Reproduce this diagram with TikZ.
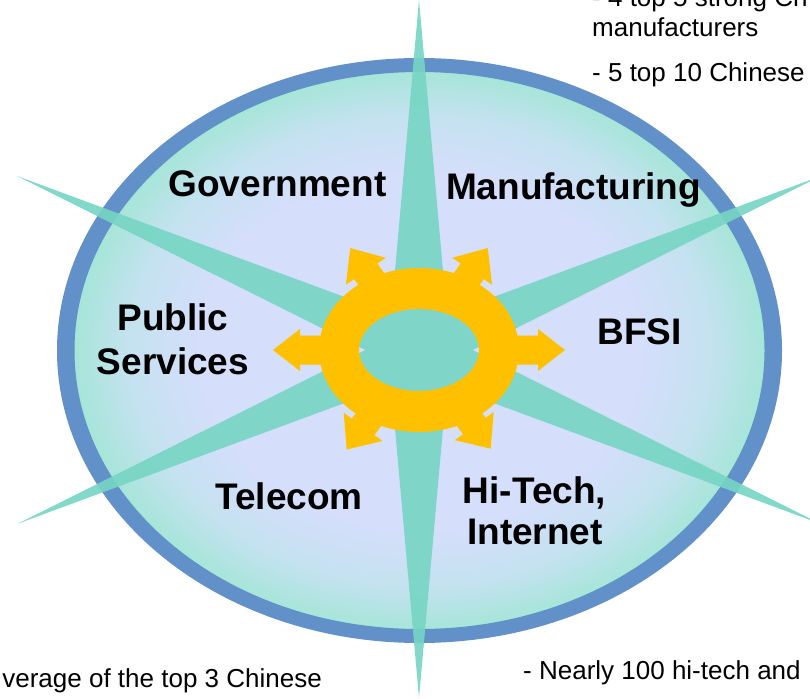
\documentclass[tikz,border=0pt]{standalone}
\usepackage{fontspec}
\setmainfont{Liberation Sans}
\definecolor{ringblue}{RGB}{98,144,200}
\definecolor{startl}{RGB}{118,213,195}
\definecolor{gearor}{RGB}{255,192,0}
\definecolor{lav}{RGB}{213,222,251}
\definecolor{midtone}{RGB}{196,226,240}
\definecolor{edgeteal}{RGB}{166,229,216}
\pgfdeclareradialshading{ellshade}{\pgfpoint{0bp}{0bp}}{color(0bp)=(lav); color(16bp)=(lav); color(21bp)=(midtone); color(25bp)=(edgeteal); color(50bp)=(edgeteal)}
\newcommand{\geararrow}[6]{% angle, start, length, head length, head half width, shaft half width
  \fill[gearc, shift={(c)}, rotate=#1] (#2,-#6) -- (#3-#4,-#6) -- (#3-#4,-#5) -- (#3,0) -- (#3-#4,#5) -- (#3-#4,#6) -- (#2,#6) -- cycle;}
\begin{document}
\begin{tikzpicture}[x=1pt,y=-1pt,
  lbl/.style={font=\fontsize{37}{44}\selectfont\bfseries, inner sep=0pt, anchor=base},
  note/.style={font=\fontsize{26}{30}\selectfont, inner sep=0pt},
  gearc/.style={fill=gearor},
  starc/.style={fill=startl, fill opacity=0.9}]
\useasboundingbox (0,0) rectangle (810,698);
\clip (0,0) rectangle (810,698);
\coordinate (c) at (419,350);
\coordinate (e) at (419.5,350.5);
% ellipse interior
\shade[shading=ellshade] (e) ellipse [x radius=346, y radius=280];
% blue ring
\fill[ringblue, even odd rule] (e) ellipse [x radius=362.5, y radius=292.5]
  (e) ellipse [x radius=345, y radius=278.5];
% star
\fill[starc] (419,0) -- (450,350) -- (419,698) -- (388,350) -- cycle
  (17,176) -- (428.5,328) -- (821,524) -- (409.5,372) -- cycle
  (17,524) -- (409.5,328) -- (821,176) -- (428.5,372) -- cycle;
% gear arrows
\geararrow{0}{75}{146}{27}{21}{14.5}
\geararrow{180}{75}{146}{27}{21}{14.5}
\geararrow{124}{70}{123}{28}{24}{14}
\geararrow{56}{70}{123}{28}{24}{14}
\geararrow{234}{70}{123}{28}{24}{14}
\geararrow{306}{70}{122}{28}{24}{14}
% gear ring
\fill[gearc, even odd rule] (c) ellipse [x radius=100, y radius=82]
  (c) ellipse [x radius=60, y radius=41];
% labels
\node[lbl] (gov) at (277.5,196) {Government};
\node[lbl] (man) at (573.5,199) {Manufacturing};
\node[lbl] (pub1) at (173,330) {Public};
\node[lbl] (pub2) at (173,374) {Services};
\node[lbl] (bfsi) at (639.5,344) {BFSI};
\node[lbl] (tel) at (289,509) {Telecom};
\node[lbl] (hit1) at (534.5,503) {Hi-Tech,};
\node[lbl] (hit2) at (535,544) {Internet};
% notes
\node[note, anchor=base west] (n1) at (592,7) {- 4 top 5 strong Ch};
\node[note, anchor=base west] (n2) at (592,37) {manufacturers};
\node[note, anchor=base west] (n3) at (592,82) {- 5 top 10 Chinese};
\node[note, anchor=base east] (n4) at (322,687) {verage of the top 3 Chinese};
\node[note, anchor=base west] (n5) at (523,679) {- Nearly 100 hi-tech and};
\end{tikzpicture}
\end{document}
